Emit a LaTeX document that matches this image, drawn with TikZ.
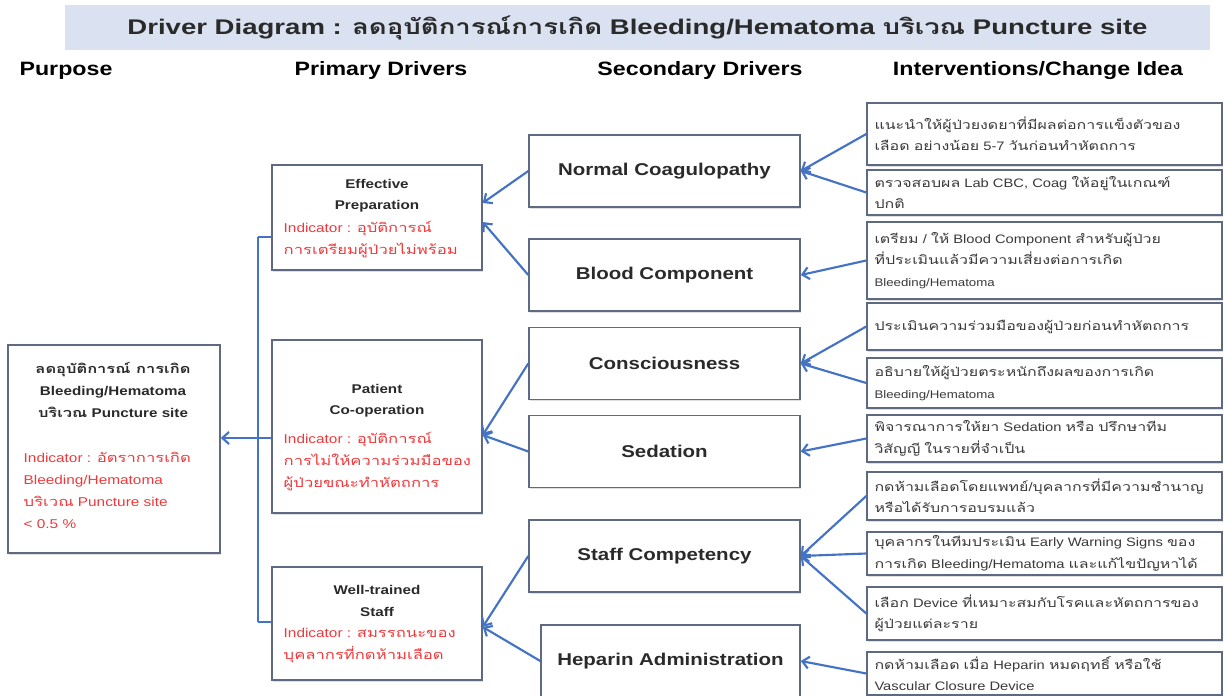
\documentclass[tikz,border=0pt]{standalone}
\usepackage{fontspec}
\setmainfont{Liberation Sans}[FakeStretch=1.2]
\newfontfamily\thaifont{Loma}[Script=Thai,FakeStretch=1.3]
\newfontfamily\titlefont{Liberation Sans}[FakeStretch=1.3]
\newfontfamily\thaititlefont{Loma}[Script=Thai,FakeStretch=1.3]
\newcommand\T[1]{{\thaifont #1}}
\newcommand\TT[1]{{\thaititlefont #1}}
\usetikzlibrary{arrows.meta,shadows}
\definecolor{barfill}{HTML}{DAE1F0}
\definecolor{boxline}{HTML}{5E6A82}
\definecolor{arrblue}{HTML}{4472C4}
\definecolor{indred}{HTML}{F0393C}
\definecolor{ivtext}{HTML}{3A3A3A}
\definecolor{labtext}{HTML}{2A2A2A}
\begin{document}
\begin{tikzpicture}[x=0.75pt,y=-0.75pt,
  box/.style={draw=boxline, line width=1.1pt, fill=white, inner sep=0pt,
    drop shadow={opacity=0.25, shadow xshift=0.6pt, shadow yshift=-1.2pt}},
  arr/.style={draw=arrblue, line width=1.6pt,
    -{Straight Barb[length=5pt,width=9pt,line width=1.6pt]}},
  bus/.style={draw=arrblue, line width=1.6pt},
  hdr/.style={font=\bfseries\fontsize{14.5}{16}\selectfont, text=black},
  sec/.style={box, minimum height=54pt, font=\bfseries\fontsize{12.8}{14}\selectfont, text=labtext},
  pbox/.style={box, minimum width=157.5pt},
  ptitle/.style={font=\bfseries\fontsize{9.5}{16}\selectfont, align=center, text=labtext},
  ind/.style={font=\fontsize{9.6}{16.5}\selectfont, text=indred, align=left, anchor=west},
  iv/.style={box, minimum width=266.25pt, text width=255pt, inner xsep=5.6pt,
    align=left, font=\fontsize{9.2}{16}\selectfont, text=ivtext}
]
\useasboundingbox (0,0) rectangle (1225,696);
\fill[white] (0,0) rectangle (1225,696);

% title
\node[fill=barfill, minimum width=858.75pt, minimum height=33.75pt, inner sep=0pt,
  font=\titlefont\bfseries\fontsize{15.9}{18}\selectfont, text=labtext]
  (titlebar) at (637.5,27.5)
  {Driver Diagram : \TT{ลดอุบัติการณ์การเกิด} Bleeding/Hematoma \TT{บริเวณ} Puncture site};

% headers
\node[hdr] (hPurpose) at (66,71) {Purpose};
\node[hdr] (hPrimary) at (381,71) {Primary Drivers};
\node[hdr] (hSecondary) at (700,71) {Secondary Drivers};
\node[hdr] (hInterv) at (1038,71) {Interventions/Change Idea};

% purpose
\node[box, minimum width=159pt, minimum height=156pt] (pur) at (114,449) {};
\node[font=\bfseries\fontsize{9.5}{16.5}\selectfont, align=center, text=labtext]
  (purT) at (113,390) {\T{ลดอุบัติการณ์ การเกิด}\\Bleeding/Hematoma\\\T{บริเวณ} Puncture site};
\node[ind] (purI) at (19,490) {Indicator : \T{อัตราการเกิด}\\Bleeding/Hematoma\\\T{บริเวณ} Puncture site\\< 0.5 \%};

% primary drivers
\node[pbox, minimum height=78.75pt] (ep) at (377,217.5) {};
\node[ptitle] (epT) at (377,196) {Effective\\Preparation};
\node[ind] (epI) at (279,240) {Indicator : \T{อุบัติการณ์}\\\T{การเตรียมผู้ป่วยไม่พร้อม}};

\node[pbox, minimum height=129.75pt] (pc) at (377,426.5) {};
\node[ptitle] (pcT) at (377,401) {Patient\\Co-operation};
\node[ind] (pcI) at (279,462) {Indicator : \T{อุบัติการณ์}\\\T{การไม่ให้ความร่วมมือของ}\\\T{ผู้ป่วยขณะทำหัตถการ}};

\node[pbox, minimum height=84.75pt] (ws) at (377,623.5) {};
\node[ptitle] (wsT) at (377,601) {Well-trained\\Staff};
\node[ind] (wsI) at (279,646) {Indicator : \T{สมรรถนะของ}\\\T{บุคลากรที่กดห้ามเลือด}};

% secondary drivers
\node[sec, minimum width=203.25pt] (nc) at (664.5,171) {Normal Coagulopathy};
\node[sec, minimum width=203.25pt] (bc) at (664.5,275) {Blood Component};
\node[sec, minimum width=203.25pt] (con) at (664.5,363.5) {Consciousness};
\node[sec, minimum width=203.25pt] (sed) at (664.5,451.5) {Sedation};
\node[sec, minimum width=203.25pt] (sc) at (664.5,556) {Staff Competency};
\node[sec, minimum width=194.25pt] (ha) at (670.5,661) {Heparin Administration};

% interventions
\node[iv, minimum height=46.5pt] (i1) at (1044.5,134) {\T{แนะนำให้ผู้ป่วยงดยาที่มีผลต่อการแข็งตัวของ}\\\T{เลือด อย่างน้อย} 5-7 \T{วันก่อนทำหัตถการ}};
\node[iv, minimum height=33.75pt] (i2) at (1044.5,192.5) {\T{ตรวจสอบผล} Lab CBC, Coag \T{ให้อยู่ในเกณฑ์}\\\T{ปกติ}};
\node[iv, minimum height=57.75pt] (i3) at (1044.5,260.5) {\T{เตรียม} / \T{ให้} Blood Component \T{สำหรับผู้ป่วย}\\\T{ที่ประเมินแล้วมีความเสี่ยงต่อการเกิด}\\{\fontsize{8.3}{16}\selectfont Bleeding/Hematoma}};
\node[iv, minimum height=35.25pt] (i4) at (1044.5,326.5) {\T{ประเมินความร่วมมือของผู้ป่วยก่อนทำหัตถการ}};
\node[iv, minimum height=37.5pt] (i5) at (1044.5,383) {\T{อธิบายให้ผู้ป่วยตระหนักถึงผลของการเกิด}\\{\fontsize{8.3}{16}\selectfont Bleeding/Hematoma}};
\node[iv, minimum height=35.25pt] (i6) at (1044.5,438.5) {\T{พิจารณาการให้ยา} Sedation \T{หรือ ปรึกษาทีม}\\\T{วิสัญญี ในรายที่จำเป็น}};
\node[iv, minimum height=36pt] (i7) at (1044.5,496) {\T{กดห้ามเลือดโดยแพทย์}/\T{บุคลากรที่มีความชำนาญ}\\\T{หรือได้รับการอบรมแล้ว}};
\node[iv, minimum height=32.25pt] (i8) at (1044.5,553.5) {\T{บุคลากรในทีมประเมิน} Early Warning Signs \T{ของ}\\\T{การเกิด} Bleeding/Hematoma \T{และแก้ไขปัญหาได้}};
\node[iv, minimum height=39.75pt] (i9) at (1044.5,613.5) {\T{เลือก} Device \T{ที่เหมาะสมกับโรคและหัตถการของ}\\\T{ผู้ป่วยแต่ละราย}};
\node[iv, minimum height=32.25pt] (i10) at (1044.5,673.5) {\T{กดห้ามเลือด เมื่อ} Heparin \T{หมดฤทธิ์ หรือใช้}\\Vascular Closure Device};

% bus to purpose
\coordinate (bEP) at (258,237);
\coordinate (bPC) at (258,438);
\coordinate (bWS) at (258,622);
\draw[bus] (bEP) -- (bWS);
\draw[bus] (bEP) -- (bEP -| ep.west);
\draw[bus] (bPC) -- (bPC -| pc.west);
\draw[bus] (bWS) -- (bWS -| ws.west);
\draw[arr] (bPC) -- (bPC -| pur.east);

% secondary -> primary
\draw[arr] (nc.west) -- ([yshift=10.9pt]ep.east);
\draw[arr] (bc.west) -- ([yshift=-3.4pt]ep.east);
\draw[arr] (con.west) -- ([yshift=-6.4pt]pc.east);
\draw[arr] (sed.west) -- ([yshift=-6.4pt]pc.east);
\draw[arr] (sc.west) -- ([yshift=-2.6pt]ws.east);
\draw[arr] (ha.west) -- ([yshift=-2.6pt]ws.east);

% interventions -> secondary
\draw[arr] (i1.west) -- (nc.east);
\draw[arr] (i2.west) -- (nc.east);
\draw[arr] (i3.west) -- (bc.east);
\draw[arr] (i4.west) -- (con.east);
\draw[arr] (i5.west) -- (con.east);
\draw[arr] (i6.west) -- (sed.east);
\draw[arr] (i7.west) -- (sc.east);
\draw[arr] (i8.west) -- (sc.east);
\draw[arr] (i9.west) -- (sc.east);
\draw[arr] (i10.west) -- (ha.east);
\end{tikzpicture}
\end{document}
